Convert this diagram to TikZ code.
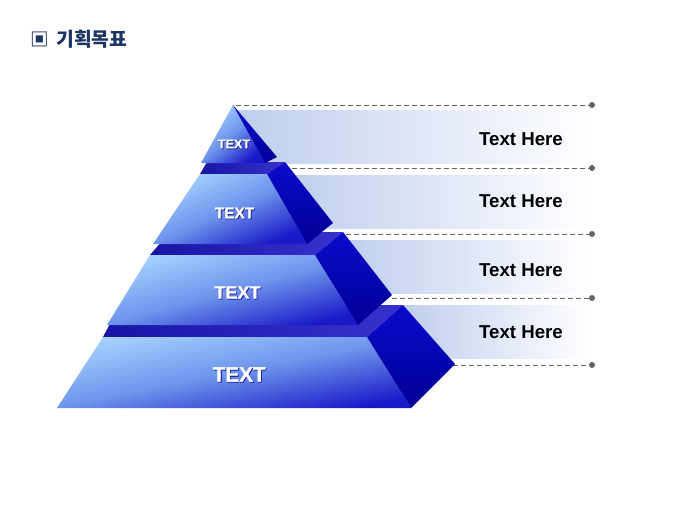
\documentclass[tikz,border=0pt]{standalone}
\usepackage{fontspec}
\setmainfont{Liberation Sans}
\newfontfamily\krfont{Noto Sans CJK KR}
\newfontfamily\heavyfont{Liberation Sans Bold}[FakeBold=1.4]
\definecolor{navy}{RGB}{28,52,100}
\definecolor{bandblue}{RGB}{190,205,238}
\definecolor{frontlight}{RGB}{165,210,255}
\definecolor{frontmid}{RGB}{110,148,236}
\definecolor{frontdark}{RGB}{25,25,200}
\definecolor{sidetop}{RGB}{10,10,205}
\definecolor{sidebot}{RGB}{0,0,150}
\definecolor{topleft}{RGB}{25,20,165}
\definecolor{topright}{RGB}{55,50,205}
\definecolor{dashgray}{RGB}{100,100,100}
\tikzset{
  band/.style={left color=bandblue, right color=white},
  dashline/.style={draw=dashgray, dash pattern=on 3.5pt off 2.5pt, line width=0.7pt},
  enddot/.style={circle, fill=dashgray, inner sep=0pt, minimum size=4.5pt},
  frontface/.style={top color=frontlight, bottom color=frontdark, middle color=frontmid, shading angle=#1},
  sideface/.style={top color=sidetop, bottom color=sidebot},
  topface/.style={left color=topleft, right color=topright},
  herelabel/.style={font=\fontsize{14}{16}\selectfont\bfseries, text=black, inner sep=0pt},
  tierlabel/.style={text=white, inner sep=0pt},
  tiershadow/.style={text=frontdark!70!black, inner sep=0pt}
}
\begin{document}
\begin{tikzpicture}[x=0.75pt,y=-0.75pt]
\useasboundingbox (0,0) rectangle (680,510);
\fill[white] (0,0) rectangle (680,510);

% title
\node[inner sep=0pt, text=navy, font=\krfont\bfseries\fontsize{14}{15}\selectfont] (bullet) at (39.5,39) {▣};
\node[inner sep=0pt, anchor=west, text=navy, font=\krfont\bfseries\fontsize{14.5}{16}\selectfont] (title) at (56,39) {기획목표};

% bands
\shade[band] (235,110) rectangle (590,163);
\shade[band] (280,175) rectangle (590,228);
\shade[band] (340,240) rectangle (590,293);
\shade[band] (398,305) rectangle (590,358);

% dashed leaders
\coordinate (s1) at (236,105);
\coordinate (s2) at (292,168);
\coordinate (s3) at (346,234);
\coordinate (s4) at (392,298);
\coordinate (s5) at (453,365);
\node[enddot] (d1) at (592,105) {};
\node[enddot] (d2) at (592,168) {};
\node[enddot] (d3) at (592,234) {};
\node[enddot] (d4) at (592,298) {};
\node[enddot] (d5) at (592,365) {};
\draw[dashline] (s1) -- (d1);
\draw[dashline] (s2) -- (d2);
\draw[dashline] (s3) -- (d3);
\draw[dashline] (s4) -- (d4);
\draw[dashline] (s5) -- (d5);

% tier 4
\shade[topface] (103,337) -- (367,337) -- (403,305) -- (120,305) -- cycle;
\shade[frontface=11] (103,337) -- (367,337) -- (411,408) -- (57,408) -- cycle;
\shade[sideface] (367,337) -- (403,305) -- (455,364) -- (411,408) -- cycle;

% tier 3
\shade[topface] (150,255) -- (315,255) -- (343,232) -- (170,232) -- cycle;
\shade[frontface=15] (150,255) -- (315,255) -- (358,325) -- (107,325) -- cycle;
\shade[sideface] (315,255) -- (343,232) -- (392,295) -- (358,325) -- cycle;

% tier 2
\shade[topface] (200,174) -- (267,174) -- (285,162) -- (207,162) -- cycle;
\shade[frontface=24] (200,174) -- (267,174) -- (307,244) -- (153,244) -- cycle;
\shade[sideface] (267,174) -- (285,162) -- (333,223) -- (307,244) -- cycle;

% tier 1
\shade[frontface=40] (233,105) -- (265,163) -- (201,163) -- cycle;
\shade[sideface] (233,105) -- (277,157) -- (265,163) -- cycle;

% tier labels
\node[tiershadow, font=\heavyfont\fontsize{9.5}{11}\selectfont] (t1s) at (234.8,144.8) {TEXT};
\node[tierlabel, font=\heavyfont\fontsize{9.5}{11}\selectfont] (t1) at (234,144) {TEXT};
\node[tiershadow, font=\heavyfont\fontsize{11.5}{13}\selectfont] (t2s) at (235.3,213.8) {TEXT};
\node[tierlabel, font=\heavyfont\fontsize{11.5}{13}\selectfont] (t2) at (234.5,213) {TEXT};
\node[tiershadow, font=\heavyfont\fontsize{13.5}{15}\selectfont] (t3s) at (238.3,293.3) {TEXT};
\node[tierlabel, font=\heavyfont\fontsize{13.5}{15}\selectfont] (t3) at (237.5,292.5) {TEXT};
\node[tiershadow, font=\heavyfont\fontsize{15.5}{17}\selectfont] (t4s) at (240,375.3) {TEXT};
\node[tierlabel, font=\heavyfont\fontsize{15.5}{17}\selectfont] (t4) at (239.2,374.5) {TEXT};

% right labels
\node[herelabel] (h1) at (521,139) {Text Here};
\node[herelabel] (h2) at (521,201.5) {Text Here};
\node[herelabel] (h3) at (521,270) {Text Here};
\node[herelabel] (h4) at (521,332.5) {Text Here};
\end{tikzpicture}
\end{document}
